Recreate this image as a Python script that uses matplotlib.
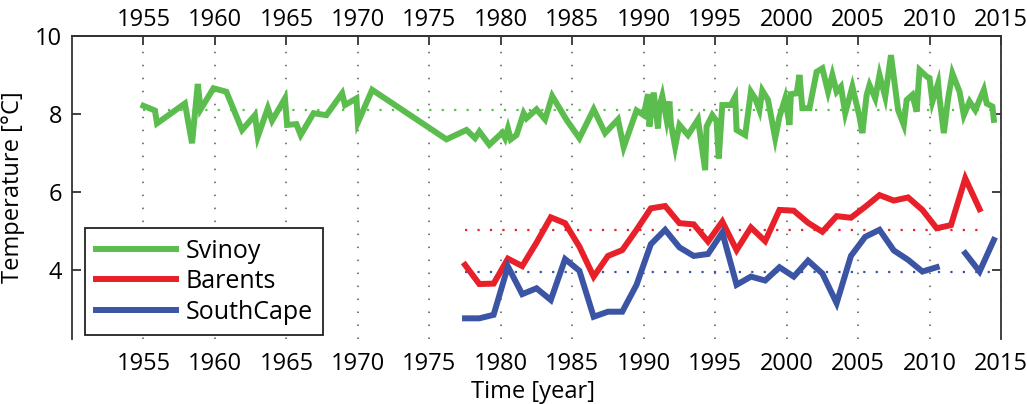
import numpy as np
import matplotlib
matplotlib.use("Agg")
import matplotlib.pyplot as plt

plt.rcParams["font.family"] = ["Open Sans", "DejaVu Sans"]

# Svinoy section: irregular sampling, decimal years
svinoy_time = [
    1955.0, 1955.8, 1955.95, 1957.9, 1958.4, 1958.8, 1959.0, 1959.9, 1960.8, 1961.9,
    1962.8, 1963.0, 1963.7, 1964.0, 1964.9, 1965.05, 1965.7, 1966.0, 1966.9, 1967.8,
    1968.9, 1969.1, 1969.9, 1970.0, 1971.0, 1976.2, 1977.6, 1978.2, 1978.5, 1979.2,
    1980.1, 1980.3, 1980.5, 1980.7, 1981.1, 1981.6, 1981.8, 1982.5, 1983.1, 1983.6,
    1984.6, 1985.5, 1986.5, 1987.3, 1988.2, 1988.6, 1989.5, 1990.0, 1990.3, 1990.4,
    1990.7, 1991.0, 1991.1, 1991.3, 1991.6, 1991.8, 1991.9, 1992.2, 1992.5, 1993.1,
    1993.8, 1994.3, 1994.4, 1994.8, 1995.1, 1995.25, 1995.5, 1996.1, 1996.4, 1996.5,
    1997.1, 1997.5, 1997.8, 1998.1, 1998.3, 1998.7, 1999.2, 1999.5, 1999.9, 2000.2,
    2000.3, 2000.7, 2000.9, 2001.1, 2001.6, 2002.1, 2002.5, 2002.9, 2003.2, 2003.5,
    2003.8, 2004.1, 2004.6, 2005.1, 2005.3, 2005.6, 2005.8, 2006.2, 2006.5, 2006.9,
    2007.3, 2007.8, 2008.2, 2008.4, 2008.8, 2009.1, 2009.3, 2009.8, 2010.0, 2010.2,
    2010.6, 2010.7, 2011.0, 2011.3, 2011.6, 2012.1, 2012.4, 2012.8, 2013.2, 2013.8,
    2014.0, 2014.4, 2014.5,
]
svinoy_temp = [
    8.21, 8.09, 7.76, 8.27, 7.25, 8.77, 8.12, 8.66, 8.57, 7.59,
    7.97, 7.42, 8.15, 7.83, 8.40, 7.72, 7.74, 7.46, 8.02, 7.97,
    8.53, 8.23, 8.40, 7.78, 8.62, 7.35, 7.59, 7.38, 7.55, 7.21,
    7.52, 7.38, 7.63, 7.35, 7.46, 8.02, 7.89, 8.12, 7.86, 8.46,
    7.85, 7.38, 8.12, 7.51, 7.86, 7.15, 8.09, 7.97, 8.51, 7.68,
    8.55, 7.63, 8.19, 8.46, 7.86, 8.32, 7.76, 7.16, 7.72, 7.46,
    7.86, 6.56, 7.68, 7.97, 7.82, 6.86, 8.23, 8.23, 8.44, 7.59,
    7.46, 8.57, 8.40, 8.10, 8.60, 8.36, 7.38, 7.93, 8.40, 7.72,
    8.51, 8.53, 9.00, 8.15, 8.15, 9.08, 9.17, 8.57, 9.00, 8.57,
    8.70, 8.02, 8.70, 7.93, 7.51, 8.49, 8.74, 8.40, 9.00, 8.44,
    9.51, 8.10, 7.72, 8.36, 8.49, 8.06, 9.13, 8.96, 8.92, 8.32,
    8.79, 8.40, 7.51, 8.40, 9.04, 8.57, 7.97, 8.32, 8.10, 8.62,
    8.27, 8.19, 7.85,
]

# Barents and SouthCape: annual values plotted at mid-year
years = np.arange(1977, 2015)
barents_temp = [
    4.13, 3.64, 3.65, 4.29, 4.10, 4.70, 5.35, 5.20, 4.60, 3.83,
    4.36, 4.51, 5.03, 5.58, 5.64, 5.20, 5.17, 4.73, 5.24, 4.51,
    5.09, 4.74, 5.54, 5.52, 5.21, 4.98, 5.38, 5.34, 5.62, 5.92,
    5.78, 5.86, 5.54, 5.07, 5.15, 6.35, 5.56, np.nan,
]
southcape_temp = [
    2.76, 2.76, 2.85, 4.09, 3.38, 3.53, 3.23, 4.28, 3.98, 2.80,
    2.93, 2.93, 3.62, 4.66, 5.03, 4.58, 4.36, 4.41, 4.96, 3.62,
    3.83, 3.73, 4.07, 3.83, 4.24, 3.91, 3.15, 4.36, 4.85, 5.03,
    4.50, 4.26, 3.96, 4.07, np.nan, 4.43, 3.96, 4.77,
]

green = "#5cbd4f"
red = "#e8202a"
blue = "#3b55a4"
axis_col = "#333333"
fs = 17

fig = plt.figure(figsize=(10.27, 4.04), dpi=100)
ax = fig.add_axes([72 / 1027, 1 - 339 / 404, 929 / 1027, 303 / 404])

t_mid = years + 0.5
series = [
    ("Svinoy", np.array(svinoy_time), np.array(svinoy_temp), green),
    ("Barents", t_mid, np.array(barents_temp), red),
    ("SouthCape", t_mid, np.array(southcape_temp), blue),
]

# long-term means as dotted lines
for name, t, v, c in series:
    ok = ~np.isnan(v)
    ax.plot([t[ok][0], t[ok][-1]], [np.nanmean(v)] * 2, color=c, lw=1.6,
            linestyle=(0, (1, 4.6)), zorder=2)

for name, t, v, c in series:
    ax.plot(t, v, color=c, lw=4.3, label=name, zorder=3, solid_joinstyle="miter")

xt = np.arange(1955, 2016, 5)
ax.set_xlim(1950, 2015)
ax.set_ylim(2.23, 10)
ax.set_xticks(xt)
ax.set_yticks([4, 6, 8, 10])

for x in xt:
    ax.axvline(x, color="#555555", lw=1.1, linestyle=(0, (1, 7.5)), zorder=1)

for side in ["left", "right", "top"]:
    ax.spines[side].set_color(axis_col)
    ax.spines[side].set_linewidth(1.3)
ax.spines["bottom"].set_visible(False)

# bottom year labels without tick marks
ax.tick_params(axis="x", bottom=False, labelbottom=True, labelsize=fs, pad=6)
ax.tick_params(axis="y", direction="in", left=True, right=True, length=6.5,
               width=1.3, color=axis_col, labelsize=fs, pad=7)

# top axis with inward ticks
top = ax.secondary_xaxis("top")
top.set_xticks(xt)
top.tick_params(direction="in", length=6.5, width=1.3, color=axis_col,
                labelsize=fs, pad=3)
top.spines["top"].set_color(axis_col)
top.spines["top"].set_linewidth(1.3)

ax.set_xlabel("Time [year]", fontsize=fs)
ax.xaxis.set_label_coords(0.496, -0.135)
ax.set_ylabel("Temperature [°C]", fontsize=fs)
ax.yaxis.set_label_coords(-0.051, 0.5)

leg = ax.legend(loc="lower left", bbox_to_anchor=(0.014, 0.013), fontsize=18,
                handlelength=3.2, handletextpad=0.4, labelspacing=0.22,
                borderpad=0.42, borderaxespad=0, fancybox=False,
                edgecolor="#222222", framealpha=1)
leg.get_frame().set_linewidth(1.3)

fig.savefig("out.png", dpi=100)
